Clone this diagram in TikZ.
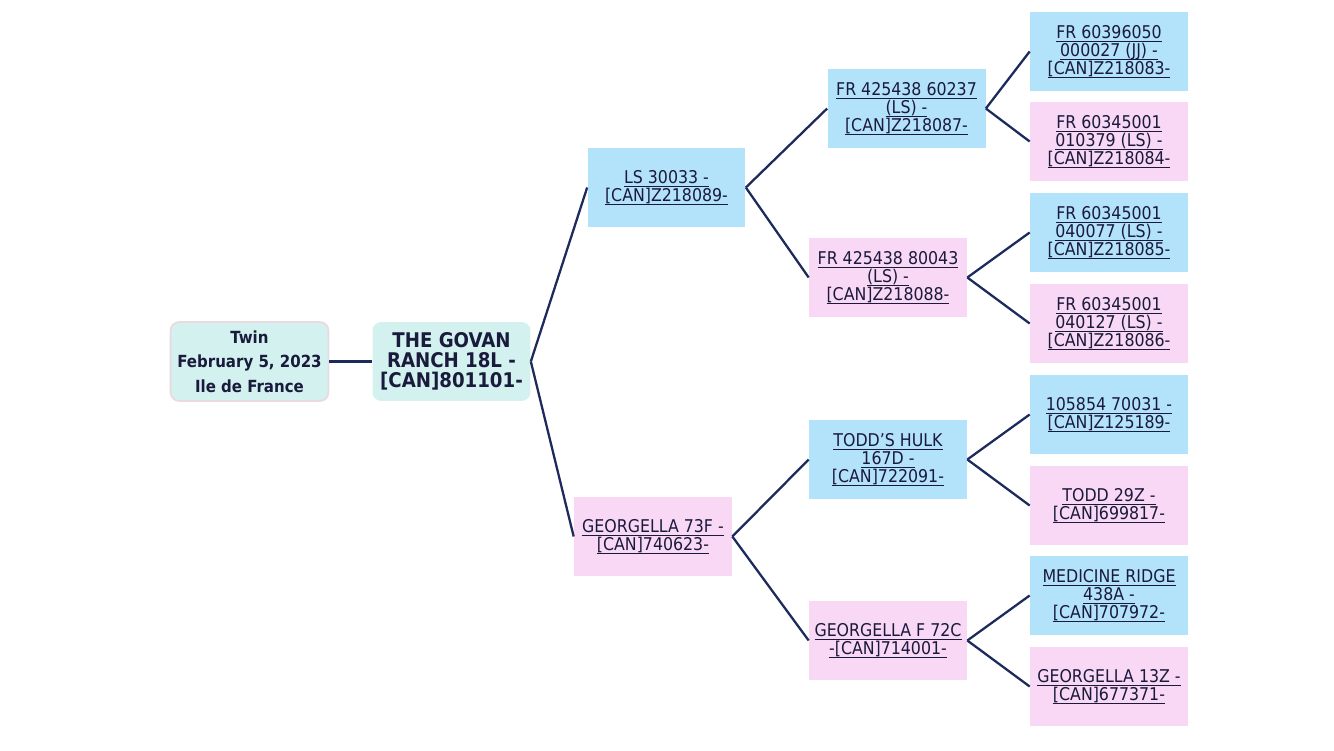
\documentclass[tikz,border=0pt]{standalone}
\usepackage{fontspec}
\setmainfont{DejaVu Sans Condensed}
\usepackage{tikz}
\usetikzlibrary{positioning}
\definecolor{sireblue}{HTML}{B3E3FA}
\definecolor{dampink}{HTML}{F8D8F4}
\definecolor{headcyan}{HTML}{D3F1EE}
\definecolor{headedge}{HTML}{EAD9E0}
\definecolor{linknavy}{HTML}{1C2A5C}
\definecolor{inktext}{HTML}{1A1A3C}
% underline at a fixed depth, so every line keeps the same spacing
\newcommand{\lnk}[1]{\setbox0\hbox{#1}\rlap{\raisebox{-1.6pt}[0pt][0pt]{\rule{\wd0}{0.5pt}}}\box0}

\begin{document}
\begin{tikzpicture}[
    x=0.02cm, y=-0.02cm,
    cell/.style={minimum width=3.16cm, minimum height=1.58cm, inner sep=1pt,
                 align=center, text=inktext, font=\fontsize{10}{10.2}\selectfont},
    sire/.style={cell, fill=sireblue},
    dam/.style={cell, fill=dampink},
    head/.style={cell, fill=headcyan, rounded corners=5pt},
    link/.style={draw=linknavy, line width=1.3pt},
  ]
  \useasboundingbox (0,0) rectangle (1334,750);

  % Animal and dam/sire
  \node[head, draw=headedge, line width=1pt,
        font=\bfseries\fontsize{9.5}{14}\selectfont] (twin) at (249.5,361.5)
        {Twin\\February 5, 2023\\Ile de France};
  \node[head, font=\bfseries\fontsize{11.5}{11.4}\selectfont] (root) at (451.5,361.5)
        {THE GOVAN\\RANCH 18L -\\{[CAN]801101-}};

  % Parents
  \node[sire] (ls) at (666.5,187.5) {\lnk{LS 30033 -}\\\lnk{[CAN]Z218089-}};
  \node[dam] (g73f) at (653,536.5) {\lnk{GEORGELLA 73F -}\\\lnk{[CAN]740623-}};

  % Grandparents
  \node[sire] (fra) at (906.5,108.5) {\lnk{FR 425438 60237}\\\lnk{(LS) -}\\\lnk{[CAN]Z218087-}};
  \node[dam] (frb) at (888,277.5) {\lnk{FR 425438 80043}\\\lnk{(LS) -}\\\lnk{[CAN]Z218088-}};
  \node[sire] (hulk) at (888,459.5) {\lnk{TODD'S HULK}\\\lnk{167D -}\\\lnk{[CAN]722091-}};
  \node[dam] (g72c) at (888,640.5) {\lnk{GEORGELLA F 72C}\\\lnk{-[CAN]714001-}};

  % Great-grandparents
  \node[sire] (ggA) at (1109,51.5) {\lnk{FR 60396050}\\\lnk{000027 (JJ) -}\\\lnk{[CAN]Z218083-}};
  \node[dam] (ggB) at (1109,141.5) {\lnk{FR 60345001}\\\lnk{010379 (LS) -}\\\lnk{[CAN]Z218084-}};
  \node[sire] (ggC) at (1109,232.5) {\lnk{FR 60345001}\\\lnk{040077 (LS) -}\\\lnk{[CAN]Z218085-}};
  \node[dam] (ggD) at (1109,323.5) {\lnk{FR 60345001}\\\lnk{040127 (LS) -}\\\lnk{[CAN]Z218086-}};
  \node[sire] (ggE) at (1109,414.5) {\lnk{105854 70031 -}\\\lnk{[CAN]Z125189-}};
  \node[dam] (ggF) at (1109,505.5) {\lnk{TODD 29Z -}\\\lnk{[CAN]699817-}};
  \node[sire] (ggG) at (1109,595.5) {\lnk{MEDICINE RIDGE}\\\lnk{438A -}\\\lnk{[CAN]707972-}};
  \node[dam] (ggH) at (1109,686.5) {\lnk{GEORGELLA 13Z -}\\\lnk{[CAN]677371-}};

  % Links
  \draw[link] (twin) -- (root);
  \draw[link] (root.east) -- (ls.west);
  \draw[link] (root.east) -- (g73f.west);
  \draw[link] (ls.east) -- (fra.west);
  \draw[link] (ls.east) -- (frb.west);
  \draw[link] (g73f.east) -- (hulk.west);
  \draw[link] (g73f.east) -- (g72c.west);
  \draw[link] (fra.east) -- (ggA.west);
  \draw[link] (fra.east) -- (ggB.west);
  \draw[link] (frb.east) -- (ggC.west);
  \draw[link] (frb.east) -- (ggD.west);
  \draw[link] (hulk.east) -- (ggE.west);
  \draw[link] (hulk.east) -- (ggF.west);
  \draw[link] (g72c.east) -- (ggG.west);
  \draw[link] (g72c.east) -- (ggH.west);

\end{tikzpicture}
\end{document}
